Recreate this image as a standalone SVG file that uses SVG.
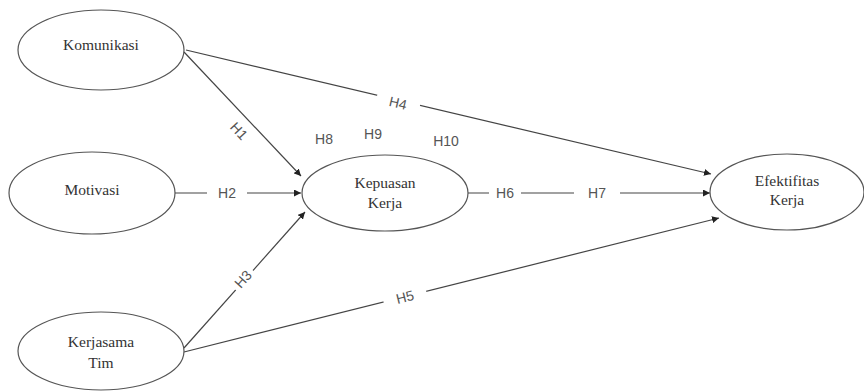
<svg xmlns="http://www.w3.org/2000/svg" width="864" height="392" viewBox="0 0 864 392">
<style>
.node ellipse{fill:#fff;stroke:#555;stroke-width:1.2}
.nt{font-family:'Liberation Serif','Times New Roman',Times,serif;font-size:15.5px;fill:#333;text-anchor:middle}
.conn line{stroke:#444;stroke-width:1.2}
.lbl{font-family:'Liberation Sans',Arial,sans-serif;font-size:14px;fill:#555;text-anchor:middle;dominant-baseline:central}
.bg{fill:#fff}
</style>
<defs>
<marker id="ah" viewBox="0 0 10 10" refX="10" refY="5" markerWidth="7" markerHeight="7" orient="auto" markerUnits="userSpaceOnUse">
<path d="M0,0 L10,5 L0,10 z" fill="#222"/>
</marker>
</defs>
<rect width="864" height="392" fill="#fff"/>
<g id="connectors" class="conn">
<line x1="184" y1="52" x2="301" y2="176" marker-end="url(#ah)"/>
<line x1="175" y1="193" x2="301" y2="193" marker-end="url(#ah)"/>
<line x1="184" y1="348" x2="305" y2="212" marker-end="url(#ah)"/>
<line x1="186" y1="50" x2="711" y2="174" marker-end="url(#ah)"/>
<line x1="184" y1="352" x2="719" y2="218" marker-end="url(#ah)"/>
<line x1="468" y1="193" x2="710" y2="193" marker-end="url(#ah)"/>
</g>
<g id="labels">
<g transform="translate(239,131) rotate(47)"><rect class="bg" x="-13" y="-9" width="26" height="18"/><text class="lbl" x="0" y="0">H1</text></g>
<g transform="translate(227,193)"><rect class="bg" x="-20" y="-8" width="40" height="16"/><text class="lbl" x="0" y="0">H2</text></g>
<g transform="translate(243,279) rotate(-48)"><rect class="bg" x="-13" y="-9" width="26" height="18"/><text class="lbl" x="0" y="0">H3</text></g>
<g transform="translate(398,103) rotate(13)"><rect class="bg" x="-22" y="-8" width="44" height="16"/><text class="lbl" x="0" y="0">H4</text></g>
<g transform="translate(405,297) rotate(-14)"><rect class="bg" x="-22" y="-8" width="44" height="16"/><text class="lbl" x="0" y="0">H5</text></g>
<g transform="translate(505,193)"><rect class="bg" x="-16" y="-8" width="32" height="16"/><text class="lbl" x="0" y="0">H6</text></g>
<g transform="translate(597,193)"><rect class="bg" x="-23" y="-8" width="46" height="16"/><text class="lbl" x="0" y="0">H7</text></g>
<text class="lbl" x="324" y="139">H8</text>
<text class="lbl" x="373" y="134">H9</text>
<text class="lbl" x="446" y="141">H10</text>
</g>
<g id="komunikasi" class="node"><ellipse cx="101" cy="50" rx="83" ry="40"/><text class="nt" x="101" y="50">Komunikasi</text></g>
<g id="motivasi" class="node"><ellipse cx="92" cy="193" rx="83" ry="41"/><text class="nt" x="92" y="195">Motivasi</text></g>
<g id="kerjasama" class="node"><ellipse cx="101" cy="351" rx="83" ry="39"/><text class="nt" x="101" y="347">Kerjasama</text><text class="nt" x="101" y="368">Tim</text></g>
<g id="kepuasan" class="node"><ellipse cx="385" cy="193" rx="83" ry="38"/><text class="nt" x="385" y="188">Kepuasan</text><text class="nt" x="385" y="208">Kerja</text></g>
<g id="efektifitas" class="node"><ellipse cx="787" cy="192" rx="77" ry="38"/><text class="nt" x="787" y="186">Efektifitas</text><text class="nt" x="787" y="205">Kerja</text></g>
</svg>
